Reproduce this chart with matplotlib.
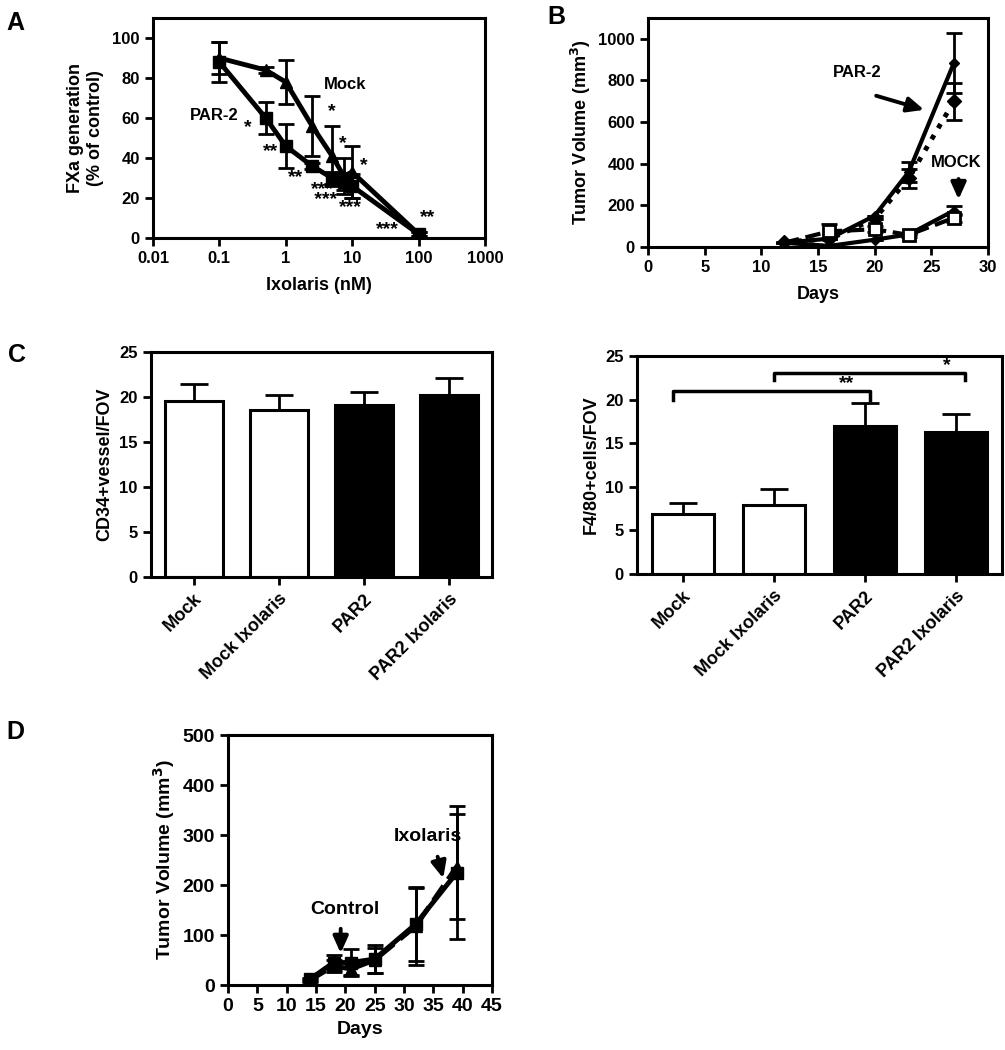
import matplotlib
matplotlib.use("Agg")
import matplotlib.pyplot as plt
from matplotlib import font_manager

# Panel A: FXa generation vs Ixolaris concentration
a_conc = [0.1, 0.5, 1, 2.5, 5, 7.5, 10, 100]
a_par2 = [88, 60, 46, 36, 30, 28, 26, 2]
a_par2_err = [10, 8, 11, 1.5, 3, 4, 6, 1]
a_mock = [90, 84, 78, 56, 41, 31, 33, 2]
a_mock_err = [8, 1.5, 11, 15, 15, 9, 13, 1]
a_star_x = [0.27, 0.6, 1.4, 3.6, 9.5, 34, 135, 5.0, 7.2, 15]
a_star_y = [55, 43, 30, 21.5, 15, 4, 10, 63, 47, 36]
a_star_txt = ["*", "**", "**", "***\n ***", "***", "***", "**", "*", "*", "*"]

# Panel B: tumor growth
b_days = [12, 16, 20, 23, 27]
b_par2 = [20, 40, 150, 360, 885]
b_par2_err = [0, 0, 0, 50, 145]
b_par2_ixo = [25, 38, 135, 330, 700]
b_par2_ixo_err = [0, 0, 0, 45, 88]
b_mock = [20, 5, 35, 60, 175]
b_mock_err = [0, 0, 0, 0, 20]
b_mock_ixo = [20, 75, 85, 58, 140]
b_mock_ixo_err = [0, 35, 15, 10, 20]

# Panel C: bar charts
c_groups = ["Mock", "Mock Ixolaris", "PAR2", "PAR2 Ixolaris"]
c_cd34 = [19.5, 18.5, 19.1, 20.2]
c_cd34_err = [1.9, 1.7, 1.4, 1.9]
c_f480 = [6.9, 7.9, 17.0, 16.3]
c_f480_err = [1.2, 1.8, 2.6, 2.1]
c_colors = ["white", "white", "black", "black"]

# Panel D: tumor growth control vs Ixolaris
d_days = [14, 18, 21, 25, 32, 39]
d_control = [12, 45, 45, 52, 122, 225]
d_control_err = [3, 15, 27, 28, 73, 133]
d_ixo = [10, 38, 32, 50, 118, 237]
d_ixo_err = [3, 12, 12, 25, 78, 105]

plt.rcParams["font.family"] = ["Liberation Sans", "DejaVu Sans"]
plt.rcParams["font.weight"] = "bold"
plt.rcParams["axes.labelweight"] = "bold"

names = {f.name for f in font_manager.fontManager.ttflist}
narrow = "Liberation Sans Narrow" if "Liberation Sans Narrow" in names else "Liberation Sans"

fig = plt.figure(figsize=(10.05, 10.5), dpi=100)


def style_axes(ax, fs=12):
    for s in ax.spines.values():
        s.set_linewidth(2.2)
    ax.tick_params(direction="out", length=6, width=2, labelsize=fs, top=False, right=False)
    for lab in ax.get_xticklabels() + ax.get_yticklabels():
        lab.set_fontweight("bold")


ebkw = dict(capsize=6, capthick=2, elinewidth=2, ecolor="black")
arrow = dict(arrowstyle="-|>,head_length=1.0,head_width=0.45", color="black", lw=2.8)

# ---- A ----
axA = fig.add_axes([0.1522, 0.7733, 0.3303, 0.2095])
axA.errorbar(a_conc, a_par2, yerr=a_par2_err, color="black", lw=3.5, marker="s", ms=8, **ebkw)
axA.errorbar(a_conc, a_mock, yerr=a_mock_err, color="black", lw=3.5, marker="^", ms=8, **ebkw)
axA.set_xscale("log")
axA.set_xlim(0.01, 1000)
axA.set_ylim(0, 110)
axA.set_yticks([0, 20, 40, 60, 80, 100])
axA.set_xticks([0.01, 0.1, 1, 10, 100, 1000])
axA.set_xticklabels(["0.01", "0.1", "1", "10", "100", "1000"])
axA.minorticks_off()
axA.set_xlabel("Ixolaris (nM)", fontsize=13, labelpad=8)
axA.set_ylabel("FXa generation\n(% of control)", fontsize=13, labelpad=6)
for x, y, t in zip(a_star_x, a_star_y, a_star_txt):
    axA.text(x, y, t, ha="center", va="center", fontsize=14, linespacing=0.55)
axA.text(0.085, 61.5, "PAR-2", ha="center", va="center", fontsize=12, fontweight="bold")
axA.text(7.7, 77, "Mock", ha="center", va="center", fontsize=12, fontweight="bold")
style_axes(axA)

# ---- B ----
axB = fig.add_axes([0.6448, 0.7648, 0.3383, 0.2181])
axB.errorbar(b_days, b_par2, yerr=b_par2_err, color="black", lw=3, marker="D", ms=5, **ebkw)
axB.errorbar(b_days, b_par2_ixo, yerr=b_par2_ixo_err, color="black", lw=3.5, ls=":", marker="D", ms=7, **ebkw)
axB.errorbar(b_days, b_mock, yerr=b_mock_err, color="black", lw=3, marker="D", ms=5, **ebkw)
axB.errorbar(b_days, b_mock_ixo, yerr=b_mock_ixo_err, color="black", lw=3, ls="--", marker="s",
             ms=8, mfc="white", mec="black", mew=2, markevery=[1, 2, 3, 4], **ebkw)
axB.set_xlim(0, 30)
axB.set_ylim(0, 1100)
axB.set_xticks(range(0, 31, 5))
axB.set_yticks(range(0, 1001, 200))
axB.set_xlabel("Days", fontsize=13, labelpad=8)
axB.set_ylabel("Tumor Volume (mm$^\\mathbf{3}$)", fontsize=13)
axB.text(18.5, 840, "PAR-2", ha="center", va="center", fontsize=12, fontweight="bold")
axB.annotate("", xy=(24.6, 655), xytext=(19.9, 730), arrowprops=arrow)
axB.text(27.2, 405, "MOCK", ha="center", va="center", fontsize=12, fontweight="bold")
axB.annotate("", xy=(27.4, 215), xytext=(27.4, 340), arrowprops=arrow)
style_axes(axB)


# ---- C ----
def bar_panel(rect, vals, errs, ylabel):
    ax = fig.add_axes(rect)
    pos = list(range(len(c_groups)))
    ax.bar(pos, vals, width=0.68, color=c_colors, edgecolor="black", linewidth=2.2, zorder=2)
    ax.errorbar(pos, vals, yerr=[[0] * len(errs), errs], fmt="none", capsize=10, capthick=2,
                elinewidth=2, ecolor="black", zorder=1)
    ax.set_xlim(-0.5, 3.5)
    ax.set_ylim(0, 25)
    ax.set_yticks(range(0, 26, 5))
    ax.set_xticks(pos)
    ax.set_xticklabels(c_groups, rotation=45, ha="right", rotation_mode="anchor")
    ax.set_ylabel(ylabel, fontsize=13)
    style_axes(ax, fs=12)
    for lab in ax.get_xticklabels():
        lab.set_fontsize(13)
    return ax


axC1 = bar_panel([0.1502, 0.4505, 0.3393, 0.2143], c_cd34, c_cd34_err, "CD34+vessel/FOV")
axC2 = bar_panel([0.6338, 0.4533, 0.3632, 0.2076], c_f480, c_f480_err, "F4/80+cells/FOV")
axC2.plot([-0.1, -0.1, 2.05, 2.05], [20.0, 21.0, 21.0, 20.0], color="black", lw=2.5)
axC2.text(1.8, 20.9, "**", ha="center", va="bottom", fontsize=14)
axC2.plot([1.0, 1.0, 3.1, 3.1], [22.3, 23.0, 23.0, 22.3], color="black", lw=2.5)
axC2.text(2.9, 22.9, "*", ha="center", va="bottom", fontsize=14)

# ---- D ----
axD = fig.add_axes([0.2269, 0.0619, 0.2627, 0.2381])
axD.errorbar(d_days, d_control, yerr=d_control_err, color="black", lw=3.5, marker="s", ms=8, **ebkw)
axD.errorbar(d_days, d_ixo, yerr=d_ixo_err, color="black", lw=3.5, ls="--", marker="^", ms=8, **ebkw)
axD.set_xlim(0, 45)
axD.set_ylim(0, 500)
axD.set_xticks(range(0, 46, 5))
axD.set_yticks(range(0, 501, 100))
axD.set_xlabel("Days", fontsize=14, family=narrow, labelpad=4)
axD.set_ylabel("Tumor Volume (mm$^\\mathbf{3}$)", fontsize=14, family=narrow)
axD.text(19.9, 152, "Control", ha="center", va="center", fontsize=14, family=narrow, fontweight="bold")
axD.annotate("", xy=(19.2, 58), xytext=(19.2, 118), arrowprops=arrow)
axD.text(34, 298, "Ixolaris", ha="center", va="center", fontsize=14, family=narrow, fontweight="bold")
axD.annotate("", xy=(36.8, 208), xytext=(35.6, 262), arrowprops=arrow)
style_axes(axD, fs=14)
for lab in axD.get_xticklabels() + axD.get_yticklabels():
    lab.set_family(narrow)

# panel letters
for x, y, t in [(15, 23, "A"), (556, 17, "B"), (17, 355, "C"), (15, 732, "D")]:
    fig.text(x / 1005, 1 - y / 1050, t, ha="center", va="center", fontsize=18, fontweight="bold")

fig.savefig("out.png", dpi=100)
